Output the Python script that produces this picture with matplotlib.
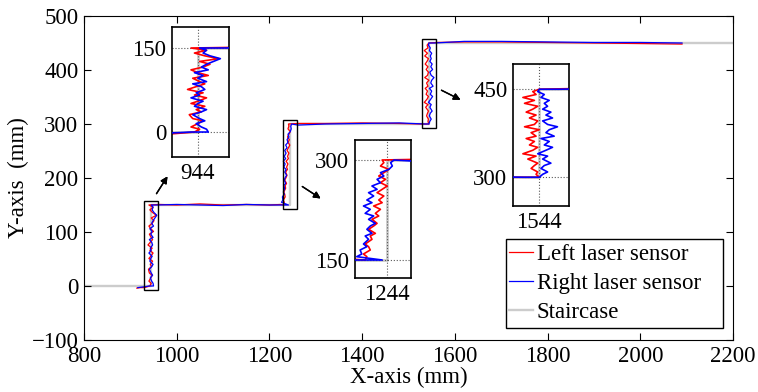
import numpy as np
import matplotlib.pyplot as plt
from matplotlib.patches import Rectangle

plt.rcParams['font.family'] = ['Liberation Serif', 'DejaVu Serif']
plt.rcParams['font.size'] = 16.5

# staircase profile (mm)
stair_x = [800, 944, 944, 1244, 1244, 1544, 1544, 2200]
stair_y = [0, 0, 150, 150, 300, 300, 450, 450]
edges = [944, 1244, 1544]
levels = [0, 150, 300]

# height gained along each riser (mm)
rise_steps = [0, 5, 9, 15, 20, 24, 31, 36, 40, 46, 51, 55, 61, 66, 70, 76,
              81, 86, 90, 96, 101, 106, 111, 116, 121, 126, 131, 136, 141, 146, 150]

# horizontal offset from riser edge while climbing (mm)
left_rise_dx = [
    [-2, 1, -4, 0, 3, -3, -5, 2, -1, 4, -4, 0, 5, -2, 3, -6, -1, 4, 1, -3, 6, 0, -4, 3,
     7, 1, 12, 4, -2, 5, -4],
    [-13, -12, -14, -10, -11, -13, -9, -10, -7, -11, -8, -6, -9, -5, -7, -4, -8, -3,
     -5, -2, -6, -3, 0, -4, -1, -5, -2, 1, -4, -2, -3],
    [0, -2, -1, -5, -3, -1, -7, -2, -10, -4, -1, -6, -3, -8, -2, -5, 0, -9, -3, -1, -6,
     -2, -8, -4, -1, -9, -3, -10, -2, -4, 0],
]
right_rise_dx = [
    [6, 5, 2, -1, 4, 1, -3, 2, 5, -2, 0, 3, -4, 1, -1, 4, 2, -3, 5, 0, 3, -2, 6, 2,
     5, 9, 13, 7, 3, 5, 1],
    [-3, -18, -15, -16, -12, -14, -11, -13, -9, -12, -10, -7, -11, -8, -13, -10, -14,
     -9, -12, -8, -11, -6, -9, -4, -6, -2, -4, 1, 3, 2, 4],
    [0, 2, 5, 1, 3, 7, 2, 5, -1, 4, 8, 3, 6, 1, 9, 4, 6, 11, 5, 2, 8, 4, 7, 2, 5, 3,
     6, 1, 3, -1, 0],
]

# readings along the treads
left_tread_x = [[914, 922, 930, 938],
                [962, 1000, 1050, 1100, 1150, 1200, 1225],
                [1262, 1320, 1400, 1480, 1530],
                [1562, 1620, 1700, 1800, 1900, 2000, 2090]]
left_tread_y = [[-4, -3, -3, -1],
                [151, 150, 152, 150, 151, 150, 151],
                [301, 301, 302, 301, 300],
                [451, 452, 452, 451, 450, 449, 448]]
right_tread_x = [[916, 925, 934, 940],
                 [958, 1000, 1050, 1100, 1150, 1200],
                 [1262, 1320, 1400, 1480, 1535],
                 [1556, 1620, 1700, 1800, 1900, 2000, 2090]]
right_tread_y = [[-3, -2, -1, 0],
                 [150, 151, 150, 149, 151, 150],
                 [298, 300, 301, 302, 300],
                 [450, 453, 453, 452, 451, 451, 450]]


def build_trace(tread_x, tread_y, rise_dx):
    xs, ys = [], []
    for i in range(4):
        xs += tread_x[i]
        ys += tread_y[i]
        if i < 3:
            xs += [edges[i] + d for d in rise_dx[i]]
            ys += [levels[i] + s for s in rise_steps]
    return np.array(xs), np.array(ys)


left_x, left_y = build_trace(left_tread_x, left_tread_y, left_rise_dx)
right_x, right_y = build_trace(right_tread_x, right_tread_y, right_rise_dx)

W, H = 758, 392
fig = plt.figure(figsize=(W / 100, H / 100), dpi=100)
ax = fig.add_axes([84 / W, 52 / H, 649 / W, 324 / H])


def draw_lines(a, lw):
    a.plot(stair_x, stair_y, color='#cccccc', lw=lw + 0.8, zorder=1, label='Staircase')
    a.plot(left_x, left_y, color='red', lw=lw, zorder=2, label='Left laser sensor')
    a.plot(right_x, right_y, color='blue', lw=lw, zorder=3, label='Right laser sensor')


draw_lines(ax, 0.9)
ax.set_xlim(800, 2200)
ax.set_ylim(-100, 500)
ax.set_xticks(range(800, 2201, 200))
ax.set_yticks(range(-100, 501, 100))
ax.tick_params(direction='in', length=5, top=True, right=True, pad=4)
ax.set_xlabel('X-axis (mm)', labelpad=0)
ax.set_ylabel('Y-axis  (mm)', labelpad=2)

# zoom boxes around each riser
for e, lv in zip(edges, levels):
    ax.add_patch(Rectangle((e - 15, lv - 8), 30, 166, fill=False,
                           ec='black', lw=1, zorder=4))

# legend entries without frame, boxed by a separate rectangle
handles, labels = ax.get_legend_handles_labels()
order = [1, 2, 0]
leg = ax.legend([handles[i] for i in order], [labels[i] for i in order],
                loc='center left', bbox_to_anchor=(509 / W, (H - 283.5) / H),
                bbox_transform=fig.transFigure, frameon=False,
                handlelength=1.05, handletextpad=0.17, labelspacing=0.33,
                borderpad=0, borderaxespad=0)
leg.set_zorder(6)
ax.add_patch(Rectangle((506 / W, 64 / H), 217 / W, 89 / H, transform=fig.transFigure,
                       fc='white', ec='black', lw=1, zorder=5, clip_on=False))

# insets: pixel box (left, top, right, bottom), x limits, y limits
insets = [
    ((172, 27, 229, 157), (929, 962), (-44.6, 187.5), 0),
    ((355, 140, 411, 278), (1225, 1258), (123, 330), 1),
    ((513, 64, 569, 206), (1528, 1562), (251, 493), 2),
]
for (l, t, r, b), xl, yl, k in insets:
    ia = fig.add_axes([l / W, (H - b) / H, (r - l) / W, (b - t) / H])
    draw_lines(ia, 1.2)
    ia.set_xlim(xl)
    ia.set_ylim(yl)
    ia.set_xticks([edges[k]])
    ia.set_yticks([levels[k], levels[k] + 150])
    ia.tick_params(direction='in', length=0, pad=4)
    ia.grid(True, ls=':', color='0.35', lw=0.8)
    for s in ia.spines.values():
        s.set_linewidth(1.2)

# arrows pointing to the insets
arrows = [((155, 196), (169, 218)), ((300, 207), (323, 192)), ((439, 303), (463, 291))]
for start, end in arrows:
    fig.add_artist(plt.annotate('', xy=end, xytext=start, xycoords='figure pixels',
                                textcoords='figure pixels',
                                arrowprops=dict(arrowstyle='-|>', color='black',
                                                lw=1.0, mutation_scale=10)))

fig.savefig('out.png', dpi=100)
